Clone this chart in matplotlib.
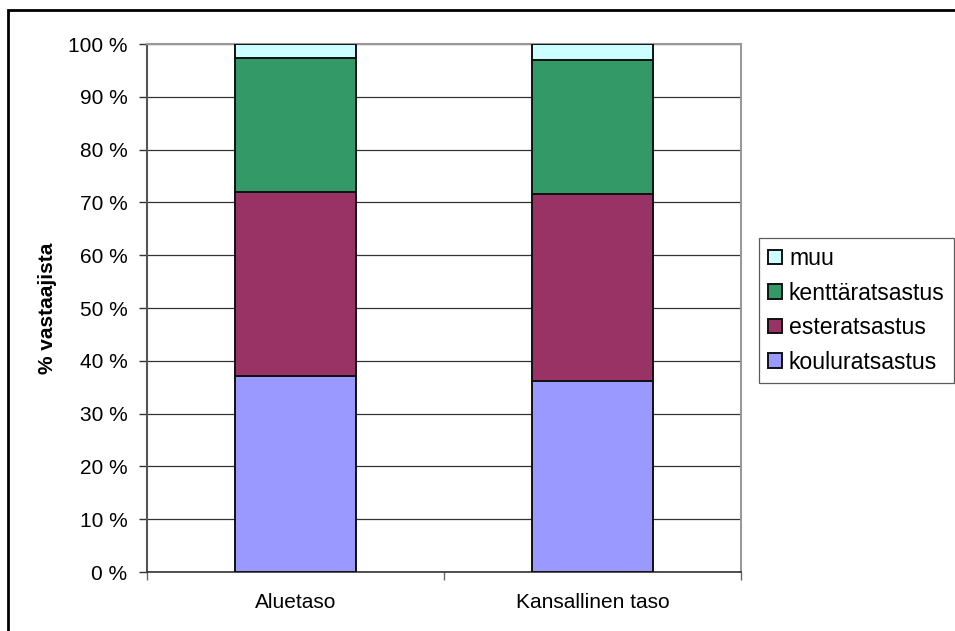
import matplotlib
matplotlib.use("Agg")
import matplotlib.pyplot as plt
from matplotlib.patches import Rectangle
from matplotlib.ticker import FixedLocator

categories = ["Aluetaso", "Kansallinen taso"]
kouluratsastus = [37.2, 36.2]
esteratsastus = [34.8, 35.3]
kenttaratsastus = [25.3, 25.5]
muu = [2.7, 3.0]
series_names = ["kouluratsastus", "esteratsastus", "kenttäratsastus", "muu"]
series_colors = ["#9999ff", "#993366", "#339966", "#ccffff"]
yticks = list(range(0, 101, 10))
ytick_labels = [f"{v} %" for v in yticks]

plt.rcParams['font.family'] = ['Liberation Sans', 'DejaVu Sans']

fig = plt.figure(figsize=(9.55, 6.31), dpi=100)
W, H = 955, 631
ax = fig.add_axes([147 / W, 1 - 572 / H, 594 / W, 528 / H])

# outer frame
fig.patches.append(Rectangle((8 / W, -0.05), 1.2, 1 - 10 / H + 0.05, transform=fig.transFigure,
                             fill=False, edgecolor="black", linewidth=2, zorder=0))

x = list(range(len(categories)))
bottom = [0.0] * len(categories)
handles = []
for name, vals, col in zip(series_names, [kouluratsastus, esteratsastus, kenttaratsastus, muu], series_colors):
    b = ax.bar(x, vals, width=0.405, bottom=bottom, color=col, edgecolor="#111111",
               linewidth=1.4, label=name, zorder=3)
    handles.append(b)
    bottom = [bb + v for bb, v in zip(bottom, vals)]

ax.set_xlim(-0.5, 1.5)
ax.set_ylim(0, 100)
ax.set_yticks(yticks)
ax.set_yticklabels(ytick_labels, fontsize=15)
ax.yaxis.grid(True, color="#333333", linewidth=0.9, zorder=0)
ax.set_axisbelow(True)

ax.set_xticks(x)
ax.set_xticklabels(categories, fontsize=15)
ax.tick_params(axis="x", which="major", length=0, pad=15)
ax.xaxis.set_minor_locator(FixedLocator([-0.5, 0.5, 1.5]))
ax.tick_params(axis="x", which="minor", length=6, color="#666666", width=1)
ax.tick_params(axis="y", length=6, color="#333333", width=1, pad=8)

for s in ["top", "right"]:
    ax.spines[s].set_color("#999999")
    ax.spines[s].set_linewidth(1.5)
ax.spines["left"].set_color("#555555")
ax.spines["left"].set_linewidth(1.5)
ax.spines["bottom"].set_color("#333333")
ax.spines["bottom"].set_linewidth(1.2)

ax.set_ylabel("% vastaajista", fontsize=15, fontweight="bold")
ax.yaxis.set_label_coords(-90 / 594, 0.5)

leg = fig.legend(handles[::-1], series_names[::-1], loc="upper left",
                 bbox_to_anchor=(759 / W, 1 - 238 / H), fontsize=16.6,
                 frameon=True, fancybox=False, edgecolor="#333333",
                 handlelength=0.6, handleheight=0.6, handletextpad=0.3,
                 labelspacing=0.5, borderpad=0.4, borderaxespad=0)
leg.get_frame().set_linewidth(0.9)

fig.savefig("out.png", dpi=100)
